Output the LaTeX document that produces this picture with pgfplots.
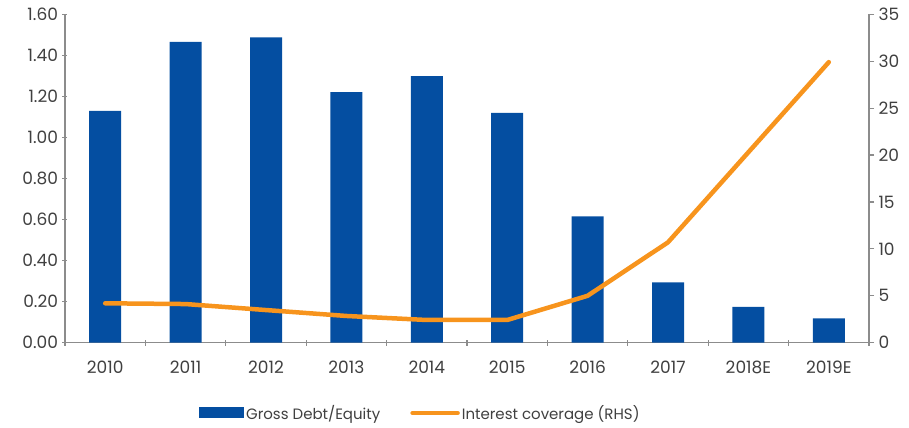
\documentclass[border=0pt]{standalone}
\usepackage{fontspec}
\setmainfont{Poppins}
\usepackage{pgfplots}
\pgfplotsset{compat=1.18}
\definecolor{barblue}{HTML}{044EA1}
\definecolor{lineorange}{HTML}{F7941D}
\definecolor{axgray}{HTML}{8C8C8C}
\definecolor{txt}{HTML}{404040}

\pgfplotstableread{
x de ic
0 1.130 4.20
1 1.466 4.12
2 1.488 3.48
3 1.221 2.85
4 1.299 2.42
5 1.120 2.42
6 0.616 5.00
7 0.294 10.7
8 0.175 20.3
9 0.119 29.9
}\datatable

\begin{document}
\begin{tikzpicture}[font=\fontsize{17bp}{19bp}\selectfont\color{txt}]
\pgfplotsset{
  base/.style={
    scale only axis, width=804bp, height=328.4bp,
    xmin=-0.5, xmax=9.5,
    ymin=0,
    axis line style={axgray, line width=1.2bp},
    tick style={axgray, line width=1.2bp},
    tick align=outside,
    major tick length=5bp, minor tick length=6bp,
    /pgf/number format/assume math mode=true,
    tick label style={font=\fontsize{17bp}{19bp}\selectfont\color{txt}},
  }
}
\begin{axis}[base, name=ax,
  axis x line=bottom, axis y line=left,
  x axis line style={-}, y axis line style={-},
  ymax=1.6, ytick={0,0.2,...,1.6},
  yticklabel={\pgfmathprintnumber[fixed,fixed zerofill,precision=2]{\tick}},
  xtick={0,...,9},
  xticklabels={2010,2011,2012,2013,2014,2015,2016,2017,2018E,2019E},
  major x tick style={draw=none},
  minor xtick={-0.5,0.5,...,9.5},
  xticklabel style={yshift=-12bp},
  yticklabel style={xshift=-1bp},
  legend style={at={(0.442,-0.214)}, anchor=center, draw=none, legend columns=2,
    /tikz/every even column/.append style={column sep=28bp},
    nodes={inner xsep=2bp},
    font=\fontsize{15bp}{17bp}\selectfont\color{txt}},
  legend image code/.code={\fill[barblue] (0bp,-5.5bp) rectangle (45bp,5.5bp);},
]
\addplot[ybar, bar width=32bp, fill=barblue, draw=none] table[x=x,y=de] {\datatable};
\addlegendentry{Gross Debt/Equity}
\addlegendimage{lineorange, line width=4.5bp, line cap=round, legend image code/.code={\draw[lineorange, line width=4.5bp, line cap=round] (2bp,0) -- (47bp,0);}}
\addlegendentry{Interest coverage (RHS)}
\end{axis}
\begin{axis}[base,
  axis x line=none, axis y line*=right,
  y axis line style={-},
  ymax=35, ytick={0,5,...,35},
  yticklabel style={xshift=1bp},
]
\addplot[lineorange, line width=4.5bp, line cap=round, line join=round] table[x=x,y=ic] {\datatable};
\end{axis}
\pgfresetboundingbox
\path[use as bounding box] ([shift={(-65bp,-84.3bp)}]ax.south west) rectangle ([shift={(40bp,14.3bp)}]ax.north east);
\end{tikzpicture}
\end{document}
